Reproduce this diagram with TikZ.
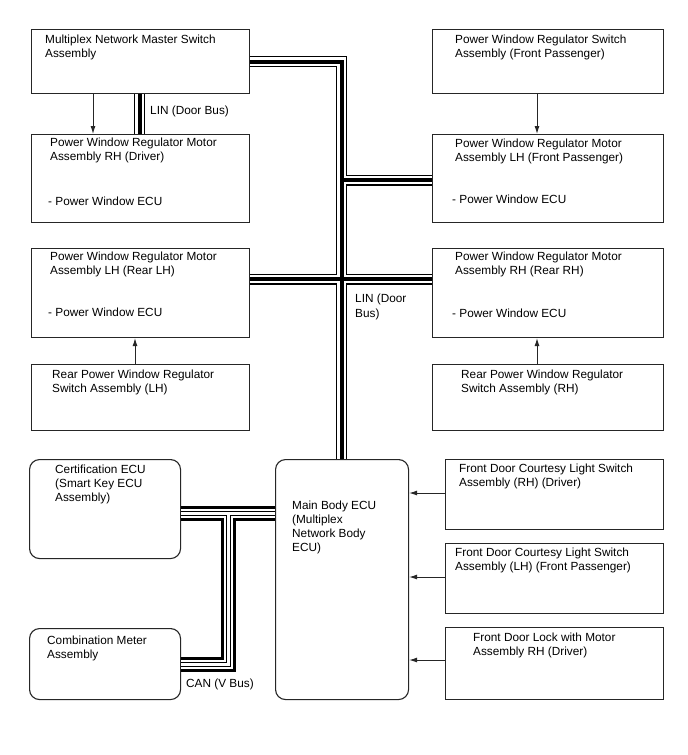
\documentclass[tikz,border=0pt]{standalone}
\usepackage{fontspec}
\setmainfont{Liberation Sans}
\usetikzlibrary{arrows.meta}
\newcommand\fsz{\fontsize{11.8}{14}\selectfont}
\newcommand\linpaths[1]{%
  \draw[#1] (master.east) -- (busx |- master.east) -- (busx |- main.north);
  \draw[#1] (linx |- master.south) -- (linx |- rhd.north);
  \draw[#1] (b3) -- (b3 -| lfp.west);
  \draw[#1] (b4 -| rlh.east) -- (b4 -| rrh.west);}
\newcommand\canpaths[1]{%
  \draw[#1] (c1 -| cert.east) -- (c1 -| main.west);
  \draw[#1] (cv) -- (c2) -- (c2 -| comb.east);}
\begin{document}
\begin{tikzpicture}[x=1pt,y=-1pt,
  box/.style={draw=black!85,line width=1.1pt,inner sep=0pt,anchor=north west},
  rbox/.style={box,rounded corners=10pt},
  txt/.style={anchor=base west,inner sep=0pt,font=\fsz},
  arr/.style={-{Latex[length=8pt,width=5pt]},line width=1pt,draw=black!85}]
\useasboundingbox[fill=white] (0,0) rectangle (688,755);

% boxes
\node[box,minimum width=218pt,minimum height=64pt] (master) at (31,29) {};
\node[box,minimum width=218pt,minimum height=88pt] (rhd) at (31,134) {};
\node[box,minimum width=218pt,minimum height=89pt] (rlh) at (31,248) {};
\node[box,minimum width=218pt,minimum height=66pt] (swl) at (31,364) {};
\node[box,minimum width=231pt,minimum height=64pt] (fps) at (432,29) {};
\node[box,minimum width=231pt,minimum height=88pt] (lfp) at (432,134) {};
\node[box,minimum width=231pt,minimum height=89pt] (rrh) at (432,248) {};
\node[box,minimum width=231pt,minimum height=66pt] (swr) at (432,364) {};
\node[rbox,minimum width=151pt,minimum height=99pt] (cert) at (29,459) {};
\node[rbox,minimum width=151pt,minimum height=71pt] (comb) at (29,628) {};
\node[rbox,minimum width=133pt,minimum height=240pt] (main) at (275,459) {};
\node[box,minimum width=218pt,minimum height=70pt] (cdr) at (445,459) {};
\node[box,minimum width=218pt,minimum height=70pt] (cfp) at (445,543) {};
\node[box,minimum width=218pt,minimum height=72pt] (lock) at (445,627) {};

% texts
\node[txt] (t1a) at (45,43) {Multiplex Network Master Switch};
\node[txt] (t1b) at (45,57) {Assembly};
\node[txt] (t2a) at (50,146) {Power Window Regulator Motor};
\node[txt] (t2b) at (50,160) {Assembly RH (Driver)};
\node[txt] (t2c) at (48,205) {- Power Window ECU};
\node[txt] (t3a) at (50,260) {Power Window Regulator Motor};
\node[txt] (t3b) at (50,274) {Assembly LH (Rear LH)};
\node[txt] (t3c) at (48,316) {- Power Window ECU};
\node[txt] (t4a) at (52,378) {Rear Power Window Regulator};
\node[txt] (t4b) at (52,392) {Switch Assembly (LH)};
\node[txt] (t5a) at (455,43) {Power Window Regulator Switch};
\node[txt] (t5b) at (455,57) {Assembly (Front Passenger)};
\node[txt] (t6a) at (455,147) {Power Window Regulator Motor};
\node[txt] (t6b) at (455,161) {Assembly LH (Front Passenger)};
\node[txt] (t6c) at (452,203) {- Power Window ECU};
\node[txt] (t7a) at (455,260) {Power Window Regulator Motor};
\node[txt] (t7b) at (455,274) {Assembly RH (Rear RH)};
\node[txt] (t7c) at (452,317) {- Power Window ECU};
\node[txt] (t8a) at (461,378) {Rear Power Window Regulator};
\node[txt] (t8b) at (461,392) {Switch Assembly (RH)};
\node[txt] (t9a) at (55,473) {Certification ECU};
\node[txt] (t9b) at (55,487) {(Smart Key ECU};
\node[txt] (t9c) at (55,501) {Assembly)};
\node[txt] (t10a) at (47,644) {Combination Meter};
\node[txt] (t10b) at (47,658) {Assembly};
\node[txt] (t11a) at (292,509) {Main Body ECU};
\node[txt] (t11b) at (292,523) {(Multiplex};
\node[txt] (t11c) at (292,537) {Network Body};
\node[txt] (t11d) at (292,551) {ECU)};
\node[txt] (t12a) at (459,472) {Front Door Courtesy Light Switch};
\node[txt] (t12b) at (459,486) {Assembly (RH) (Driver)};
\node[txt] (t13a) at (455,556) {Front Door Courtesy Light Switch};
\node[txt] (t13b) at (455,570) {Assembly (LH) (Front Passenger)};
\node[txt] (t14a) at (473,641) {Front Door Lock with Motor};
\node[txt] (t14b) at (473,655) {Assembly RH (Driver)};
\node[txt] (lin1) at (150,114) {LIN (Door Bus)};
\node[txt] (lin2a) at (355,302) {LIN (Door};
\node[txt] (lin2b) at (355,317) {Bus)};
\node[txt] (can) at (186,687) {CAN (V Bus)};

% bus coordinates
\coordinate (busx) at (341.5,0);
\coordinate (linx) at (139.5,0);
\coordinate (b3) at (341.5,180);
\coordinate (b4) at (0,279);
\coordinate (c1) at (0,513.5);
\coordinate (cv) at (228,513.5);
\coordinate (c2) at (228,664);

% LIN bus (triple line)
\linpaths{line width=11pt,black}
\linpaths{line width=8.6pt,white}
\linpaths{line width=4pt,black}

% CAN bus (pair)
\canpaths{line width=15pt,black}
\canpaths{line width=9pt,white}
\canpaths{line width=5pt,black}
\canpaths{line width=3pt,white}

% arrows
\coordinate (ax1) at (93,0);
\coordinate (ax2) at (537,0);
\coordinate (ax3) at (135,0);
\coordinate (ay1) at (0,493);
\coordinate (ay2) at (0,577);
\coordinate (ay3) at (0,660);
\draw[arr] (ax1 |- master.south) -- (ax1 |- rhd.north);
\draw[arr] (ax2 |- fps.south) -- (ax2 |- lfp.north);
\draw[arr] (ax3 |- swl.north) -- (ax3 |- rlh.south);
\draw[arr] (ax2 |- swr.north) -- (ax2 |- rrh.south);
\draw[arr] (ay1 -| cdr.west) -- (ay1 -| main.east);
\draw[arr] (ay2 -| cfp.west) -- (ay2 -| main.east);
\draw[arr] (ay3 -| lock.west) -- (ay3 -| main.east);
\end{tikzpicture}
\end{document}
